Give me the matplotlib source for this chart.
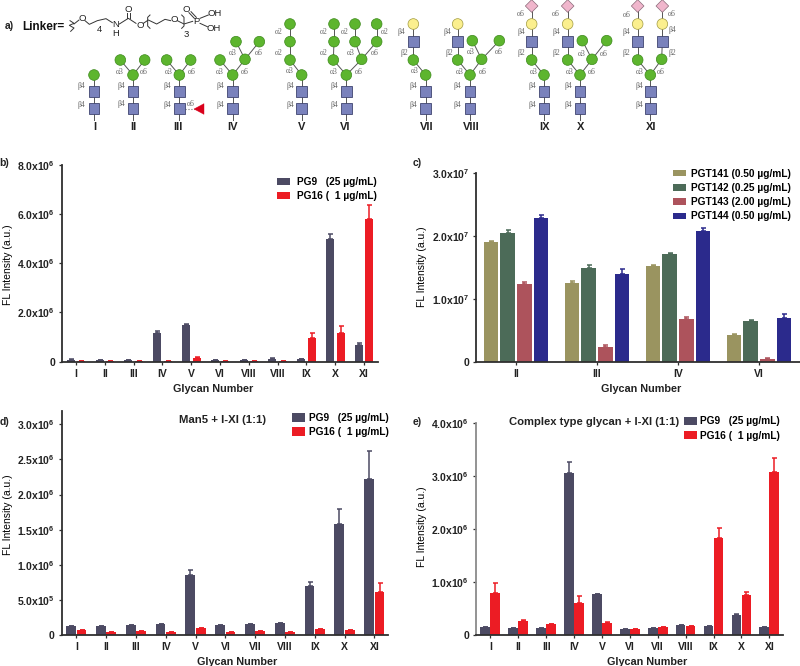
import matplotlib
matplotlib.use('Agg')
import matplotlib.pyplot as plt
from matplotlib.patches import Circle, Rectangle, Polygon

plt.rcParams['font.family'] = ['Liberation Sans', 'DejaVu Sans']
plt.rcParams['mathtext.fontset'] = 'custom'
plt.rcParams['mathtext.bf'] = 'Liberation Sans:bold'
plt.rcParams['mathtext.rm'] = 'Liberation Sans'

W, H = 800, 666

# panel b
glycans_b = ['I', 'II', 'III', 'IV', 'V', 'VI', 'VIII', 'VIII', 'IX', 'X', 'XI']
b_pg9 = [0.08e6, 0.05e6, 0.07e6, 1.18e6, 1.50e6, 0.06e6, 0.06e6, 0.12e6, 0.09e6, 4.98e6, 0.66e6]
b_pg9_err = [0.01e6, 0.01e6, 0.01e6, 0.08e6, 0.05e6, 0.01e6, 0.01e6, 0.02e6, 0.01e6, 0.22e6, 0.09e6]
b_pg16 = [0.03e6, 0.04e6, 0.02e6, 0.02e6, 0.17e6, 0.02e6, 0.03e6, 0.02e6, 0.96e6, 1.17e6, 5.78e6]
b_pg16_err = [0, 0, 0, 0, 0.02e6, 0, 0, 0, 0.19e6, 0.26e6, 0.58e6]

# panel c
glycans_c = ['II', 'III', 'IV', 'VI']
pgt141 = [1.895e7, 1.245e7, 1.515e7, 0.43e7]
pgt141_err = [0.025e7, 0.045e7, 0.022e7, 0.02e7]
pgt142 = [2.045e7, 1.49e7, 1.706e7, 0.65e7]
pgt142_err = [0.045e7, 0.047e7, 0.014e7, 0.02e7]
pgt143 = [1.236e7, 0.243e7, 0.68e7, 0.048e7]
pgt143_err = [0.034e7, 0.021e7, 0.03e7, 0.01e7]
pgt144 = [2.29e7, 1.40e7, 2.08e7, 0.70e7]
pgt144_err = [0.045e7, 0.07e7, 0.04e7, 0.055e7]

# panel d
glycans_de = ['I', 'II', 'III', 'IV', 'V', 'VI', 'VII', 'VIII', 'IX', 'X', 'XI']
d_pg9 = [0.128e6, 0.133e6, 0.142e6, 0.157e6, 0.859e6, 0.138e6, 0.152e6, 0.176e6, 0.70e6, 1.576e6, 2.217e6]
d_pg9_err = [0, 0, 0, 0, 0.061e6, 0, 0, 0, 0.05e6, 0.224e6, 0.408e6]
d_pg16 = [0.076e6, 0.047e6, 0.052e6, 0.047e6, 0.104e6, 0.047e6, 0.052e6, 0.047e6, 0.08e6, 0.07e6, 0.612e6]
d_pg16_err = [0, 0, 0, 0, 0, 0, 0, 0, 0, 0, 0.123e6]

# panel e
e_pg9 = [0.145e6, 0.126e6, 0.132e6, 3.07e6, 0.77e6, 0.12e6, 0.132e6, 0.195e6, 0.164e6, 0.372e6, 0.157e6]
e_pg9_err = [0, 0, 0, 0.19e6, 0.01e6, 0, 0, 0, 0, 0.018e6, 0]
e_pg16 = [0.80e6, 0.27e6, 0.20e6, 0.61e6, 0.233e6, 0.107e6, 0.145e6, 0.164e6, 1.833e6, 0.75e6, 3.08e6]
e_pg16_err = [0.19e6, 0.02e6, 0.015e6, 0.127e6, 0.007e6, 0, 0, 0, 0.197e6, 0.056e6, 0.26e6]

GREY = '#4c4a63'
RED = '#ec1c24'
DARK = '#2f2f2f'

fig = plt.figure(figsize=(W / 100, H / 100), dpi=100)


def sci(mant, exp):
    return mant + 'x10$^{\\mathbf{' + str(exp) + '}}$'


def make_axes(left, right, bottom, top, first, step, ymax, yticks, yticklabels, xlabels, xlab_px, ylab_px, spine_col=DARK):
    # pixel box of the axes, first = pixel of the first tick, step = pixels between ticks
    ax = fig.add_axes([left / W, 1 - bottom / H, (right - left) / W, (bottom - top) / H])
    ax.set_xlim((left - first) / step, (right - first) / step)
    ax.set_ylim(0, ymax)
    ax.spines['top'].set_visible(False)
    ax.spines['right'].set_visible(False)
    ax.spines['left'].set_color(spine_col)
    ax.spines['left'].set_linewidth(1.3)
    ax.spines['bottom'].set_color(DARK)
    ax.spines['bottom'].set_linewidth(1.3)
    ax.set_xticks(range(len(xlabels)))
    ax.set_xticklabels(xlabels, fontsize=7.5, fontweight='bold', color='#222222')
    ax.set_yticks(yticks)
    ax.set_yticklabels(yticklabels, fontsize=7.5, fontweight='bold', color='#222222')
    ax.tick_params(axis='both', length=2.5, width=0.9, color=DARK, pad=2.5)
    ax.set_xlabel('Glycan Number', fontsize=7.8, fontweight='bold', color='#222222', labelpad=3.5)
    ax.set_ylabel('FL Intensity (a.u.)', fontsize=7.5, labelpad=3)
    # the labels are not centred on the axes in the figure
    ax.xaxis.label.set_x((xlab_px - left) / (right - left))
    ax.yaxis.label.set_y((bottom - ylab_px) / (bottom - top))
    return ax


def bars(ax, step, series, width, offsets):
    for (vals, errs, col, name), off in zip(series, offsets):
        xs = [i + off / step for i in range(len(vals))]
        ax.bar(xs, vals, width=width / step, color=col, label=name, zorder=2,
               yerr=[[0] * len(errs), errs],
               error_kw=dict(ecolor=col, elinewidth=1.1, capsize=1.8, capthick=1.1))


def legend(ax, x, y, spacing=0.4, pad=0.75, hh=0.6):
    ax.legend(loc='center left', bbox_to_anchor=(x / W, 1 - y / H), bbox_transform=fig.transFigure,
              frameon=False, borderpad=0, borderaxespad=0, handlelength=1.25,
              handleheight=hh, handletextpad=pad, labelspacing=spacing,
              prop=dict(weight='bold', size=7.3))


PG9_NAME = 'PG9   (25 µg/mL)'
PG16_NAME = 'PG16 (  1 µg/mL)'

# b)
ax = make_axes(62, 378, 361.7, 164.7, 76, 28.8, 8e6, [0, 2e6, 4e6, 6e6, 8e6],
               ['0', sci('2.0', 6), sci('4.0', 6), sci('6.0', 6), sci('8.0', 6)], glycans_b, 213, 265)
bars(ax, 28.8, [(b_pg9, b_pg9_err, GREY, PG9_NAME), (b_pg16, b_pg16_err, RED, PG16_NAME)], 8, [-5.3, 5.3])
legend(ax, 277, 189)

# c)
ax = make_axes(476, 800, 362, 172.7, 516, 81, 3e7, [0, 1e7, 2e7, 3e7],
               ['0', sci('1.0', 7), sci('2.0', 7), sci('3.0', 7)], glycans_c, 640.7, 267)
bars(ax, 81, [(pgt141, pgt141_err, '#9a9460', 'PGT141 (0.50 µg/mL)'),
              (pgt142, pgt142_err, '#4c6b58', 'PGT142 (0.25 µg/mL)'),
              (pgt143, pgt143_err, '#ad535c', 'PGT143 (2.00 µg/mL)'),
              (pgt144, pgt144_err, '#2b2a8c', 'PGT144 (0.50 µg/mL)')], 14.3, [-25.2, -8.4, 8.4, 25.2])
legend(ax, 673, 195, spacing=0.42, pad=0.55)

# d)
ax = make_axes(61.7, 388, 635, 411, 76.3, 29.8, 3.19e6, [0, 0.5e6, 1e6, 1.5e6, 2e6, 2.5e6, 3e6],
               ['0', sci('5.0', 5), sci('1.0', 6), sci('1.5', 6), sci('2.0', 6), sci('2.5', 6), sci('3.0', 6)],
               glycans_de, 237.5, 515)
bars(ax, 29.8, [(d_pg9, d_pg9_err, GREY, PG9_NAME), (d_pg16, d_pg16_err, RED, PG16_NAME)], 9.8, [-5.2, 5.2])
legend(ax, 292, 425, pad=0.4, hh=0.85, spacing=0.4)

# e)
ax = make_axes(476, 783, 635, 423.3, 490.3, 27.9, 4e6, [0, 1e6, 2e6, 3e6, 4e6],
               ['0', sci('1.0', 6), sci('2.0', 6), sci('3.0', 6), sci('4.0', 6)], glycans_de, 647, 527,
               spine_col='#8a8a8a')
bars(ax, 27.9, [(e_pg9, e_pg9_err, GREY, PG9_NAME), (e_pg16, e_pg16_err, RED, PG16_NAME)], 9.7, [-5, 5])
legend(ax, 684, 428.5, pad=0.35, hh=0.85, spacing=0.4)

# overlay for schematic and free text, in 3x pixel units
ov = fig.add_axes([0, 0, 1, 1], zorder=10)
ov.set_xlim(0, W * 3)
ov.set_ylim(H * 3, 0)
ov.axis('off')
ov.patch.set_alpha(0)


def t(x, y, s, size=7.5, weight='bold', ha='center', col='#222222', **kw):
    ov.text(x, y, s, fontsize=size, fontweight=weight, ha=ha, va='center', color=col, **kw)


t(28, 78, 'a)')
t(14, 490, 'b)')
t(1252, 490, 'c)')
t(14, 1265, 'd)')
t(1252, 1265, 'e)')
t(667, 1260, 'Man5 + I-XI (1:1)', size=8.2)
t(1781, 1267, 'Complex type glycan + I-XI (1:1)', size=8.1)


def draw_node(node):
    kind, x, y, kids = node
    for kid in kids:
        ov.plot([x, kid[1]], [y, kid[2]], color='#555555', lw=0.7, zorder=1)
        draw_node(kid)
    if kind == 's':
        ov.add_patch(Rectangle((x - 16, y - 17), 32, 34, fc='#7a82bc', ec='#3f4470', lw=0.6, zorder=2))
    elif kind == 'g':
        ov.add_patch(Circle((x, y), 16, fc='#5db52e', ec='#3d8a1c', lw=0.5, zorder=2))
    elif kind == 'y':
        ov.add_patch(Circle((x, y), 16, fc='#fbef8e', ec='#a09a40', lw=0.5, zorder=2))
    elif kind == 'd':
        ov.add_patch(Polygon([(x - 19, y), (x, y - 19), (x + 19, y), (x, y + 19)], fc='#f0b6cc', ec='#8a6a78', lw=0.5, zorder=2))


def core(x, kids):
    ov.plot([x, x], [325, 360], color='#555555', lw=0.7, zorder=1)
    return ('s', x, 325, [('s', x, 275, [('g', x, 225, kids)])])


def g(x, y, kids=()):
    return ('g', x, y, list(kids))


def arm(x, ytop=72, dia=False):
    # GlcNAc-Gal(-Neu) branch going up from a mannose
    top = [('d', x, ytop - 54, [])] if dia else []
    return ('s', x, 125, [('y', x, ytop, top)])


trees = [
    core(282, []),
    core(399, [g(361, 180), g(434, 180)]),
    core(538, [g(500, 180), g(572, 180)]),
    core(698, [g(660, 180), g(735, 178, [g(708, 125), g(778, 125)])]),
    core(905, [g(870, 180, [g(870, 125, [g(870, 72)])])]),
    core(1039, [g(1000, 180, [g(1002, 125, [g(1002, 72)])]),
                g(1085, 178, [g(1065, 125, [g(1065, 72)]), g(1130, 125, [g(1130, 72)])])]),
    core(1277, [g(1240, 180, [arm(1240)])]),
    core(1410, [g(1373, 180, [arm(1373)]), g(1445, 178, [g(1417, 122), g(1498, 122)])]),
    core(1632, [g(1595, 180, [arm(1595, dia=True)])]),
    core(1740, [g(1703, 180, [arm(1703, dia=True)]), g(1776, 178, [g(1747, 122), g(1820, 122)])]),
    core(1951, [g(1913, 180, [arm(1913, dia=True)]), g(1985, 178, [arm(1987, dia=True)])]),
]
for tree in trees:
    draw_node(tree)

# fucose on III
ov.plot([555, 585], [327, 327], color='#777777', lw=0.8, ls=':', zorder=1)
ov.add_patch(Polygon([(582, 327), (612, 311), (612, 343)], fc='#d9001b', ec='#d9001b', lw=0.3, zorder=2))

numerals = ['I', 'II', 'III', 'IV', 'V', 'VI', 'VII', 'VIII', 'IX', 'X', 'XI']
numeral_x = [284, 400, 535, 698, 905, 1037, 1280, 1414, 1632, 1741, 1952]
for s, x in zip(numerals, numeral_x):
    t(x, 382, s, size=8)

# linkage labels: text, x, y
a3, a6, a2, b4, b2 = '\u03b13', '\u03b16', '\u03b12', '\u03b24', '\u03b22'
links = [
    (b4, 244, 258), (b4, 244, 316),
    (a3, 360, 215), (a6, 430, 215), (b4, 364, 257), (b4, 364, 313),
    (a3, 505, 215), (a6, 575, 215), (b4, 503, 257), (b4, 503, 316), (a6, 572, 312),
    (a3, 660, 215), (a6, 735, 215), (a3, 697, 160), (a6, 776, 160), (b4, 660, 257), (b4, 660, 316),
    (a3, 868, 212), (a2, 835, 158), (a2, 835, 95), (b4, 870, 257), (b4, 870, 316),
    (a3, 1000, 215), (a6, 1077, 215), (a2, 970, 158), (a3, 1052, 158), (a6, 1124, 158),
    (a2, 970, 95), (a2, 1035, 95), (a2, 1153, 95), (b4, 1003, 257), (b4, 1003, 316),
    (a3, 1245, 214), (b2, 1213, 158), (b4, 1205, 95), (b4, 1240, 257), (b4, 1240, 316),
    (a3, 1378, 215), (a6, 1448, 215), (b2, 1347, 158), (a3, 1411, 157), (a6, 1497, 157),
    (b4, 1342, 95), (b4, 1373, 257), (b4, 1373, 316),
    (a3, 1600, 215), (b2, 1563, 158), (b4, 1563, 95), (a6, 1562, 42), (b4, 1596, 257), (b4, 1596, 316),
    (a3, 1708, 215), (a6, 1776, 215), (b2, 1670, 158), (b4, 1670, 95), (a6, 1668, 42),
    (a3, 1746, 163), (a6, 1812, 163), (b4, 1704, 257), (b4, 1704, 316),
    (a3, 1918, 215), (a6, 1982, 215), (b2, 1880, 158), (b4, 1880, 95), (a6, 1880, 46),
    (b2, 2017, 158), (b4, 2018, 90), (a6, 2016, 42), (b4, 1919, 257), (b4, 1919, 316),
]
for s, x, y in links:
    ov.text(x, y, s, fontsize=5.5, family=['Liberation Serif', 'DejaVu Serif'], color='#666666',
            ha='center', va='center', zorder=3)

# linker structure
t(130, 80, 'Linker=', size=8.5, col='#111111')
chem = '#333333'
ov.plot([210, 222, 208, 222, 212], [62, 70, 76, 84, 94], color=chem, lw=0.7)
ov.plot([222, 237], [72, 60], color=chem, lw=0.7)
ov.plot([255, 268, 292, 318, 337], [62, 73, 62, 56, 68], color=chem, lw=0.7)
ov.plot([358, 385, 408], [72, 55, 70], color=chem, lw=0.7)
ov.plot([381, 381], [55, 38], color=chem, lw=0.7)
ov.plot([389, 389], [55, 38], color=chem, lw=0.7)
ov.plot([430, 445, 470, 495, 512], [70, 60, 72, 58, 62], color=chem, lw=0.7)
ov.plot([450, 443, 443, 450], [45, 52, 78, 85], color=chem, lw=0.7)
ov.plot([532, 552, 578], [62, 72, 64], color=chem, lw=0.7)
ov.plot([545, 552, 552, 545], [45, 52, 78, 85], color=chem, lw=0.7)
ov.plot([583, 567], [55, 38], color=chem, lw=0.7)
ov.plot([589, 573], [52, 35], color=chem, lw=0.7)
ov.plot([600, 625], [55, 45], color=chem, lw=0.7)
ov.plot([600, 622], [70, 80], color=chem, lw=0.7)
for s, x, y in [('O', 246, 55), ('4', 298, 90), ('N', 347, 73), ('H', 347, 100), ('O', 385, 28), ('O', 420, 75),
                ('O', 522, 60), ('3', 560, 103), ('P', 590, 63), ('O', 560, 30), ('OH', 643, 40), ('OH', 640, 85)]:
    t(x, y, s, size=6.8, weight='normal', col='#222222')

fig.savefig('out.png', dpi=100)
